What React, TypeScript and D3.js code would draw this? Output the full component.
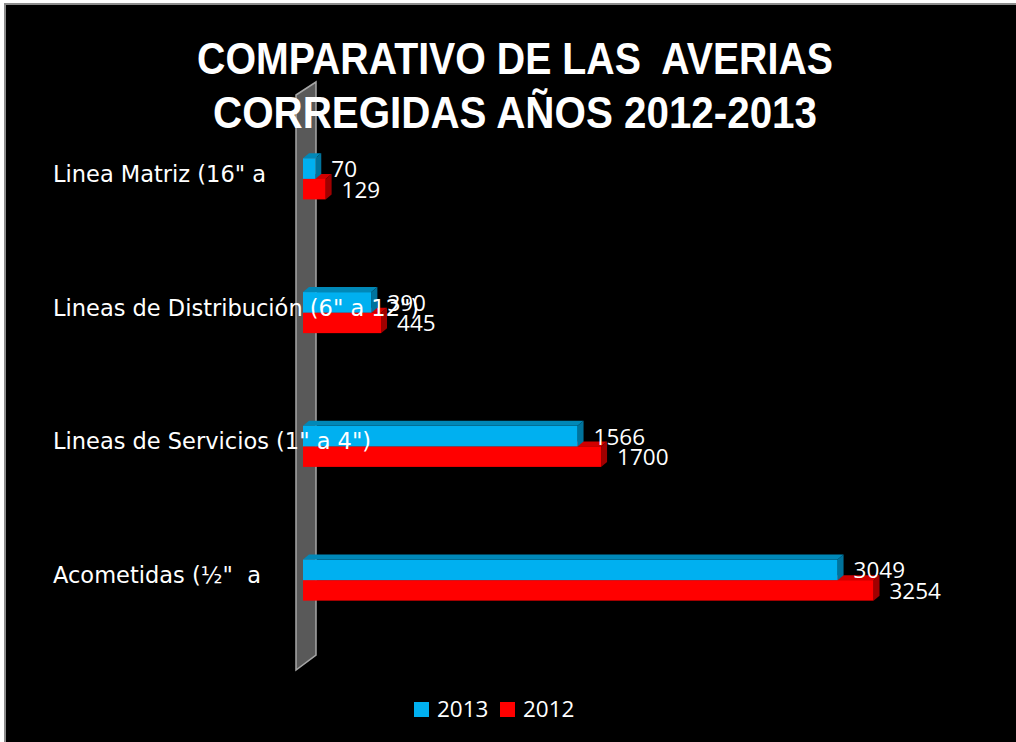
import * as d3 from 'd3';

// chart data (bottom to top, as drawn)
const categories = [
  'Acometidas (½"  a',
  'Lineas de Servicios (1" a 4")',
  'Lineas de Distribución (6" a 12")',
  'Linea Matriz (16" a',
];
const seriesNames = ['2013', '2012'];
const values2013 = [3049, 1566, 390, 70];
const values2012 = [3254, 1700, 445, 129];
const titleLines = ['COMPARATIVO DE LAS  AVERIAS', 'CORREGIDAS AÑOS 2012-2013'];
const titleWidths = [636, 604];

const W = 1016;
const H = 742;

const palette: Record<string, { front: string; top: string; side: string }> = {
  '2013': { front: '#00b0f0', top: '#0088b8', side: '#00739c' },
  '2012': { front: '#ff0000', top: '#d00000', side: '#a00000' },
};

const DX = 6; // 3d depth offset
const DY = 5;

const App = () => {
  const x = d3.scaleLinear().domain([0, 3254]).range([303, 873.5]);
  const y0 = d3.scaleBand<string>().domain(categories).range([647, 112]).paddingInner(0);
  const y1 = d3
    .scaleBand<string>()
    .domain(seriesNames)
    .range([0, y0.bandwidth()])
    .paddingInner(0)
    .paddingOuter(2.26);

  const valuesBySeries: Record<string, number[]> = { '2013': values2013, '2012': values2012 };
  // red first so the blue front face covers its top
  const drawOrder = ['2012', '2013'];

  // wall behind the bars
  const wallTop = 95;
  const wallBottom = 670;
  const wallLeft = 296;
  const wallRight = 316;
  const wallSlant = 13;

  const font = '"Open Sans", "Liberation Sans", sans-serif';
  const pts = (arr: number[][]) => arr.map((p) => p.join(',')).join(' ');

  return (
    <svg width={W} height={H} style={{ position: 'fixed', left: 0, top: 0 }}>
      <rect x={0} y={0} width={W} height={H} fill="#fff" />
      <rect x={5} y={4} width={W + 10} height={H + 10} fill="#000" stroke="#8c8c8c" strokeWidth={2} />

      <polygon
        points={pts([
          [wallLeft, wallTop],
          [wallRight, wallTop - wallSlant],
          [wallRight, wallBottom - wallSlant - 2],
          [wallLeft, wallBottom],
        ])}
        fill="#595959"
        stroke="#a6a6a6"
        strokeWidth={1.5}
      />

      {titleLines.map((t, i) => (
        <text
          key={t}
          x={515}
          y={74 + i * 54}
          textAnchor="middle"
          fill="#fff"
          fontFamily='"Liberation Sans", Arial, sans-serif'
          fontWeight="bold"
          fontSize={44}
          textLength={titleWidths[i]}
          lengthAdjust="spacingAndGlyphs"
          style={{ whiteSpace: 'pre' }}
        >
          {t}
        </text>
      ))}

      {categories.map((c, ci) =>
        drawOrder.map((s) => {
          const v = valuesBySeries[s][ci];
          const x0 = x(0);
          const x1 = x(v);
          const yt = (y0(c) ?? 0) + (y1(s) ?? 0);
          const h = y1.bandwidth();
          const col = palette[s];
          return (
            <g key={c + s}>
              <polygon
                points={pts([
                  [x0, yt],
                  [x0 + DX, yt - DY],
                  [x1 + DX, yt - DY],
                  [x1, yt],
                ])}
                fill={col.top}
              />
              <polygon
                points={pts([
                  [x1, yt],
                  [x1 + DX, yt - DY],
                  [x1 + DX, yt + h - DY],
                  [x1, yt + h],
                ])}
                fill={col.side}
              />
              <rect x={x0} y={yt} width={x1 - x0} height={h} fill={col.front} />
            </g>
          );
        })
      )}

      {categories.map((c) => (
        <text
          key={c}
          x={53}
          y={(y0(c) ?? 0) + y0.bandwidth() / 2 - 5}
          dominantBaseline="central"
          fill="#fff"
          fontFamily='"DejaVu Sans", sans-serif'
          fontSize={22.5}
          style={{ whiteSpace: 'pre' }}
        >
          {c}
        </text>
      ))}

      {categories.map((c, ci) =>
        seriesNames.map((s) => {
          const v = valuesBySeries[s][ci];
          const yt = (y0(c) ?? 0) + (y1(s) ?? 0);
          return (
            <text
              key={'l' + c + s}
              x={x(v) + 16}
              y={yt + y1.bandwidth() / 2}
              dominantBaseline="central"
              fill="#fff"
              fontFamily={font}
              fontSize={22.5}
            >
              {v}
            </text>
          );
        })
      )}

      {seriesNames.map((s, i) => (
        <g key={'lg' + s} transform={`translate(${414 + i * 86},702)`}>
          <rect x={0} y={0} width={15} height={15} fill={palette[s].front} />
          <text x={23} y={15} fill="#fff" fontFamily={font} fontSize={22.5}>
            {s}
          </text>
        </g>
      ))}
    </svg>
  );
};

export default App;
